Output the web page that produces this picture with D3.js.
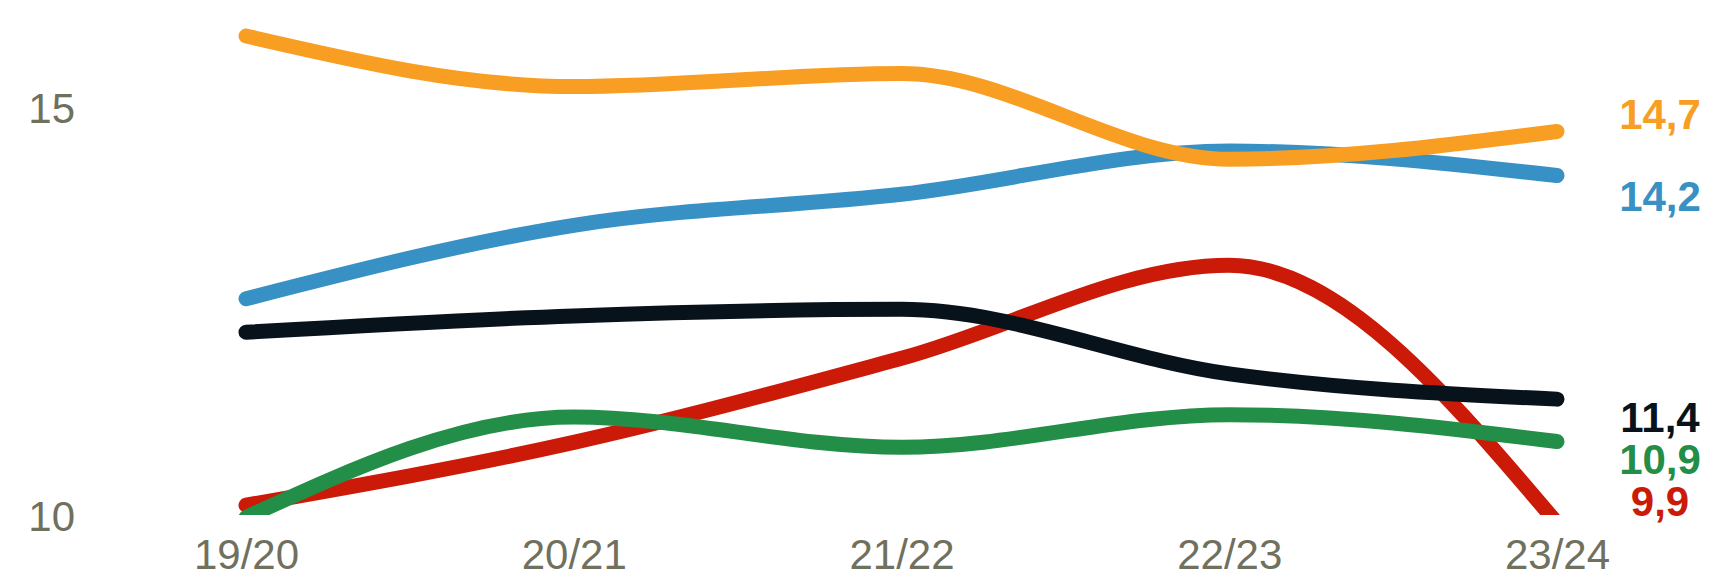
<!DOCTYPE html>
<html>
<head>
<meta charset="utf-8">
<script src="https://cdn.jsdelivr.net/npm/d3@7"></script>
<style>
  html, body { margin: 0; padding: 0; background: #ffffff; }
  svg { display: block; }
</style>
</head>
<body>
<svg id="chart" width="1711" height="579"></svg>
<script>
// ---- data ----
const categories = ["19/20", "20/21", "21/22", "22/23", "23/24"];
const seriesNames = ["orange", "blue", "black", "green", "red"];
const orangeValues = [15.87, 15.25, 15.41, 14.36, 14.7];
const blueValues   = [12.65, 13.55, 13.93, 14.46, 14.16];
const blackValues  = [12.24, 12.44, 12.52, 11.73, 11.42];
const greenValues  = [9.97, 11.2, 10.83, 11.23, 10.9];
const redValues    = [10.12, 10.89, 11.92, 13.06, 9.9];
const yTickValues  = [10, 15];

// ---- styling / layout ----
const colors = {
  orange: "#f89e23",
  blue:   "#3891c4",
  black:  "#08121b",
  green:  "#238e47",
  red:    "#cb1a08"
};
const labelDy = { orange: -18, blue: 20, black: 18, green: 17, red: -22 };
const textColor = "#6f705e";
const drawOrder = ["red", "blue", "orange", "black", "green"];

const valuesByName = {
  orange: orangeValues, blue: blueValues, black: blackValues,
  green: greenValues, red: redValues
};

const svg = d3.select("#chart");
const x = d3.scalePoint().domain(categories).range([246, 1557]);
const y = d3.scaleLinear().domain([10, 15]).range([515, 107]);

// clip: lines are cut at the bottom of the value range
svg.append("defs").append("clipPath").attr("id", "plotClip")
  .append("rect").attr("x", 0).attr("y", 0).attr("width", 1711).attr("height", y(10));

// axes
const yAxis = d3.axisLeft(y).tickValues(yTickValues).tickSize(0).tickPadding(0)
  .tickFormat(d3.format("d"));
const gy = svg.append("g").attr("transform", "translate(75,0)").call(yAxis);
gy.select(".domain").remove();
gy.selectAll("text")
  .attr("x", 0).attr("dy", "0.36em")
  .attr("fill", textColor)
  .style("font-family", "'Liberation Sans', Arial, sans-serif")
  .style("font-size", "42px");

const xAxis = d3.axisBottom(x).tickSize(0).tickPadding(0);
const gx = svg.append("g").attr("transform", "translate(0,554)").call(xAxis);
gx.select(".domain").remove();
gx.selectAll("text")
  .attr("y", 0).attr("dy", "0.36em")
  .attr("fill", textColor)
  .style("font-family", "'Liberation Sans', Arial, sans-serif")
  .style("font-size", "42px");

// lines
const line = d3.line()
  .x((d, i) => x(categories[i]))
  .y(d => y(d))
  .curve(d3.curveMonotoneX);

const gLines = svg.append("g").attr("clip-path", "url(#plotClip)");
drawOrder.forEach(name => {
  gLines.append("path")
    .datum(valuesByName[name])
    .attr("d", line)
    .attr("fill", "none")
    .attr("stroke", colors[name])
    .attr("stroke-width", 15)
    .attr("stroke-linecap", "round")
    .attr("stroke-linejoin", "round");
});

// end labels
const fmt = v => d3.format(".1f")(v).replace(".", ",");
seriesNames.forEach(name => {
  const vals = valuesByName[name];
  const last = vals[vals.length - 1];
  svg.append("text")
    .attr("x", x(categories[categories.length - 1]) + 103)
    .attr("y", y(last) + labelDy[name])
    .attr("dy", "0.36em")
    .attr("text-anchor", "middle")
    .attr("fill", colors[name])
    .style("font-family", "'Liberation Sans', Arial, sans-serif")
    .style("font-weight", "bold")
    .style("font-size", "42px")
    .text(fmt(last));
});
</script>
</body>
</html>
